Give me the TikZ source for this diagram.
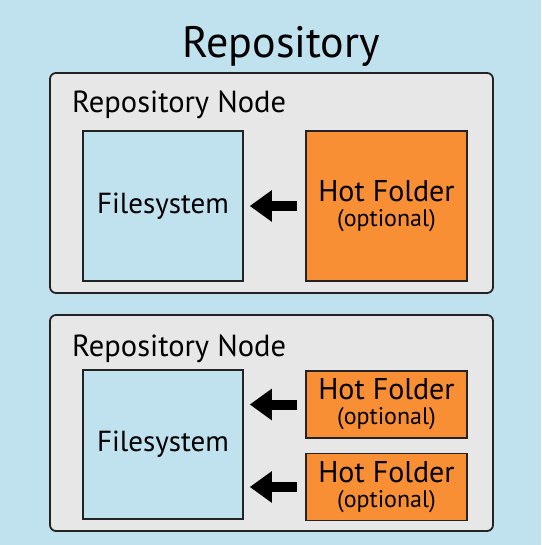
\documentclass[tikz,border=0pt]{standalone}
\usepackage{fontspec}
\setmainfont{PT Sans}
\usetikzlibrary{positioning,arrows.meta}
\definecolor{skyColor}{RGB}{191,226,238}
\definecolor{nodeGray}{RGB}{231,231,231}
\definecolor{hotOrange}{RGB}{248,143,52}
\definecolor{edgeColor}{RGB}{35,35,35}
\tikzstyle{plan} = [x = 1pt, y = -1pt]
\tikzstyle{repoBox} = [draw=edgeColor, fill=nodeGray, line width=1.8pt, rounded corners=6pt, inner sep=0pt]
\tikzstyle{fsBox} = [draw=edgeColor, fill=skyColor, line width=1.5pt, minimum width=160pt, inner sep=0pt, font=\fontsize{29}{30}\selectfont]
\tikzstyle{hotBox} = [draw=edgeColor, fill=hotOrange, line width=1.5pt, minimum width=161pt, inner sep=0pt, align=center, font=\fontsize{30}{25}\selectfont]
\tikzstyle{nodeText} = [anchor=base west, inner sep=0pt, font=\fontsize{30.5}{32}\selectfont]
\tikzstyle{feedArrow} = [draw=black, line width=10pt, -{Triangle[length=22pt, width=30pt]}, shorten >= 6pt, shorten <= 8pt]
\newcommand{\optional}{{\fontsize{24}{25}\selectfont (optional)}}

\begin{document}
\begin{tikzpicture}[plan]
  \fill [skyColor] (0,0) rectangle (541,545);
  \useasboundingbox (0,0) rectangle (541,545);

  \node [anchor=base, inner sep=0pt, font=\fontsize{44}{46}\selectfont] (title) at (281,58) {Repository};

  % first repository node
  \node [repoBox, minimum width=443pt, minimum height=220pt] (repoA) at (271.5,183) {};
  \node [nodeText] (repoAText) at (72,113) {Repository Node};
  \node [fsBox, minimum height=150pt] (fsA) at (163,206) {Filesystem};
  \node [hotBox, minimum height=150pt] (hotA) at (386.5,206) {Hot Folder\\\optional};
  \draw [feedArrow] (hotA.west) -- (fsA.east);

  % second repository node
  \node [repoBox, minimum width=443pt, minimum height=216pt] (repoB) at (271.5,423) {};
  \node [nodeText] (repoBText) at (72,356) {Repository Node};
  \node [fsBox, minimum height=149pt] (fsB) at (163,444.5) {Filesystem};
  \node [hotBox, minimum height=67pt] (hotB) at (386.5,404.5) {Hot Folder\\\optional};
  \node [hotBox, minimum height=67pt, below=14pt of hotB] (hotC) {Hot Folder\\\optional};
  \draw [feedArrow] (hotB.west) -- (hotB.west -| fsB.east);
  \draw [feedArrow] (hotC.west) -- (hotC.west -| fsB.east);
\end{tikzpicture}
\end{document}
